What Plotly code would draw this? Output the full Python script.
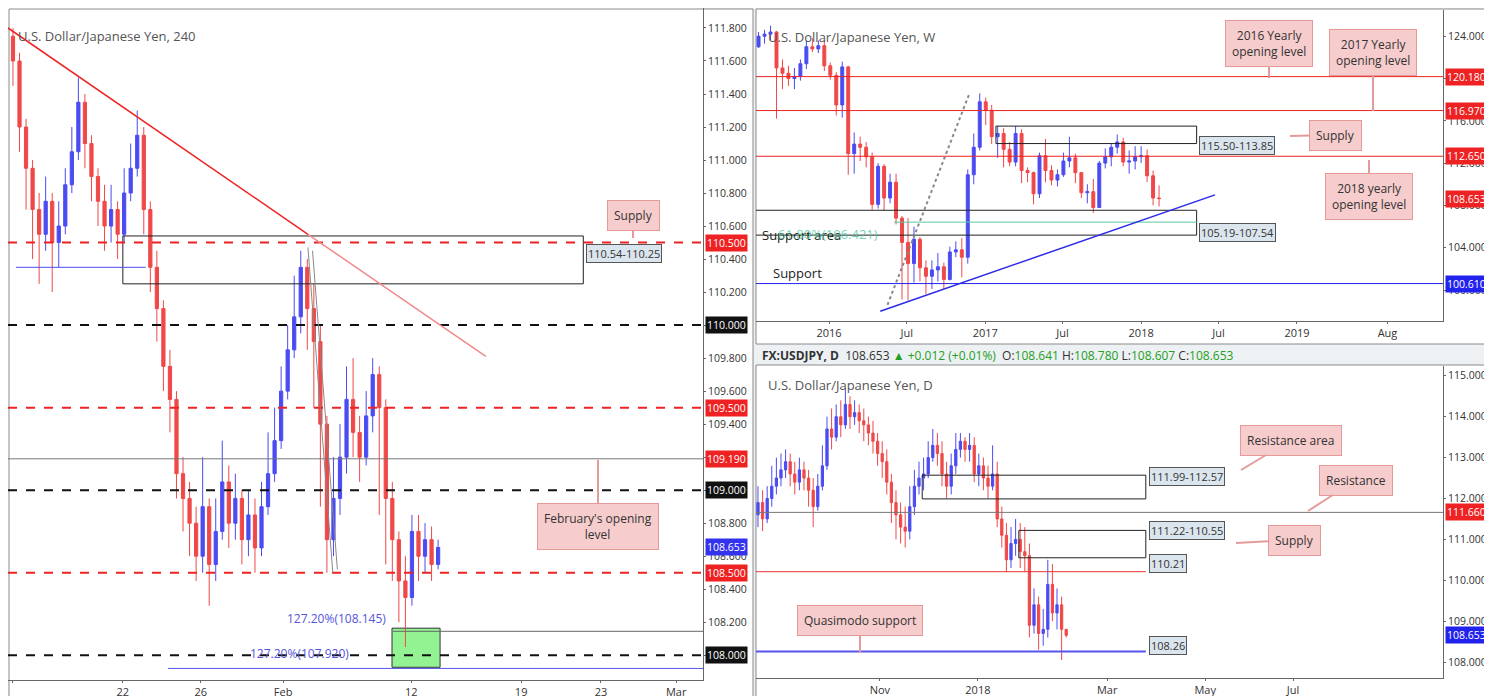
"""
    USD/JPY: 4h, weekly and daily panels
"""

import pandas as pd
import plotly.graph_objects as go

W, H = 1492, 696

# ---- 4h data (Jan 15 - Feb 13)
h4_close = [111.60, 111.20, 110.95, 110.70, 110.55, 110.75, 110.50, 110.60, 110.85, 111.05,
            111.35, 111.10, 110.90, 110.75, 110.60, 110.70, 110.55, 110.80, 110.95, 111.15,
            110.70, 110.35, 110.10, 109.75, 109.55, 109.10, 108.95, 108.80, 108.60, 108.90,
            108.55, 108.75, 109.05, 108.80, 108.95, 108.70, 108.85, 108.65, 108.90, 109.10,
            109.30, 109.60, 109.85, 110.05, 110.35, 110.10, 109.90, 109.40, 108.70, 108.95,
            109.20, 109.55, 109.35, 109.20, 109.45, 109.70, 109.50, 108.95, 108.70, 108.45,
            108.35, 108.75, 108.60, 108.70, 108.55, 108.653]
h4_high = [111.80, 111.65, 111.25, 111.00, 110.80, 110.90, 110.80, 110.75, 110.95, 111.20,
           111.50, 111.40, 111.15, 110.95, 110.85, 110.85, 110.75, 110.95, 111.10, 111.30,
           111.20, 110.75, 110.45, 110.15, 109.85, 109.60, 109.20, 109.05, 108.90, 109.20,
           108.95, 108.95, 109.30, 109.15, 109.10, 109.00, 109.00, 108.95, 109.05, 109.35,
           109.50, 109.75, 110.00, 110.30, 110.45, 110.40, 110.25, 110.00, 109.45, 109.20,
           109.40, 109.75, 109.80, 109.45, 109.60, 109.80, 109.75, 109.55, 109.05, 108.75,
           108.60, 108.85, 108.85, 108.80, 108.78, 108.70]
h4_low = [111.45, 111.05, 110.70, 110.40, 110.25, 110.45, 110.20, 110.35, 110.55, 110.80,
          111.00, 110.95, 110.75, 110.60, 110.45, 110.50, 110.40, 110.50, 110.75, 110.90,
          110.55, 110.20, 109.90, 109.60, 109.35, 108.95, 108.75, 108.60, 108.45, 108.50,
          108.30, 108.45, 108.70, 108.65, 108.70, 108.55, 108.60, 108.50, 108.60, 108.85,
          109.05, 109.25, 109.55, 109.80, 109.95, 109.85, 109.50, 108.90, 108.50, 108.60,
          108.85, 109.10, 109.20, 109.05, 109.15, 109.35, 108.85, 108.55, 108.45, 108.20,
          108.05, 108.30, 108.45, 108.50, 108.45, 108.52]
h4_first_open = 111.75
h4_ticks = [0, 16.8, 28.7, 41.3, 60.9, 77.7, 89.9, 101.4]
h4_ticktext = ["15", "22", "26", "Feb", "12", "19", "23", "Mar"]

# ---- weekly data (two-week bars, Jul 2015 - Feb 2018)
wk_close = [124.0, 124.2, 124.4, 121.0, 120.5, 120.0, 120.2, 121.4, 123.0, 122.8, 123.1, 121.2, 120.3,
            117.5, 121.1, 112.9, 113.8, 113.5, 112.6, 108.1, 111.7, 108.7, 110.2, 106.8, 104.5, 102.5,
            104.8, 102.1, 101.3, 101.9, 102.2, 101.0, 103.6, 103.8, 103.1, 110.9, 113.5, 117.8, 117.0,
            114.5, 114.8, 113.3, 112.1, 114.8, 111.3, 111.1, 109.1, 112.7, 111.3, 110.4, 110.9, 112.2,
            112.5, 111.1, 109.2, 109.3, 107.8, 112.0, 112.6, 113.5, 114.0, 112.1, 112.2, 112.6, 112.7,
            110.8, 108.7, 108.65]
wk_high = [124.4, 124.6, 125.0, 124.5, 121.8, 121.2, 121.0, 121.8, 123.6, 123.8, 123.6, 123.6, 121.5,
           120.6, 121.6, 121.2, 114.9, 114.5, 114.0, 113.0, 112.0, 111.9, 111.0, 111.0, 107.0, 106.8,
           106.0, 105.0, 102.8, 102.8, 103.5, 102.6, 104.1, 104.6, 104.9, 111.4, 114.8, 118.6, 118.2,
           117.5, 115.5, 115.3, 114.0, 115.5, 115.2, 111.6, 111.2, 113.0, 114.3, 111.8, 111.4, 113.0,
           114.5, 112.9, 111.1, 110.0, 110.5, 112.2, 113.4, 113.9, 114.7, 114.4, 113.2, 113.6, 113.6,
           113.3, 111.3, 109.9]
wk_low = [122.9, 123.3, 123.6, 116.2, 119.0, 119.3, 119.0, 119.8, 120.9, 122.5, 122.4, 120.7, 119.9,
          116.5, 116.3, 110.9, 111.0, 112.2, 111.6, 107.6, 107.7, 107.5, 108.2, 106.2, 99.1, 99.0,
          100.7, 100.8, 99.6, 100.1, 100.8, 100.1, 100.9, 103.1, 101.2, 102.5, 110.0, 113.2, 115.6,
          113.8, 112.5, 111.6, 111.7, 111.7, 110.1, 110.2, 108.1, 108.7, 110.2, 109.9, 109.8, 110.7,
          111.6, 110.1, 108.7, 108.2, 107.3, 107.8, 111.5, 111.7, 112.9, 111.7, 111.0, 111.4, 112.0,
          110.2, 108.0, 107.9]
wk_first_open = 123.0
wk_start = "2015-07-20"
wk_ticks = ["2016-01-01", "2016-07-01", "2017-01-01", "2017-07-01",
            "2018-01-01", "2018-07-01", "2019-01-01", "2019-08-01"]
wk_ticktext = ["2016", "Jul", "2017", "Jul", "2018", "Jul", "2019", "Aug"]

# ---- daily data (two-day bars, Aug 2017 - Feb 2018)
d_close = [111.9, 111.5, 112.0, 112.3, 112.5, 112.7, 112.9, 112.6, 112.4, 112.7,
           112.5, 112.2, 111.8, 112.3, 112.8, 113.7, 113.5, 114.0, 113.8, 114.3,
           114.0, 114.1, 113.9, 113.8, 113.6, 113.4, 113.1, 112.9, 112.4, 111.9,
           111.6, 111.3, 111.2, 111.8, 112.3, 112.5, 112.6, 113.0, 113.3, 113.1,
           112.6, 112.3, 112.8, 113.2, 113.4, 113.2, 113.3, 112.6, 112.8, 112.5,
           112.3, 112.6, 111.5, 111.1, 110.5, 110.9, 111.0, 110.7, 110.6, 108.9,
           109.4, 108.7, 108.8, 109.9, 109.2, 109.4, 108.8, 108.653]
d_high = [112.3, 112.2, 112.3, 112.8, 113.0, 113.1, 113.2, 113.1, 112.9, 113.0,
          112.9, 112.7, 112.5, 112.6, 113.3, 114.0, 114.2, 114.3, 114.4, 114.7,
          114.5, 114.4, 114.3, 114.2, 114.0, 113.9, 113.6, 113.4, 113.2, 112.6,
          112.2, 111.9, 111.8, 112.3, 112.7, 112.9, 113.0, 113.4, 113.7, 113.6,
          113.4, 112.9, 113.1, 113.6, 113.6, 113.5, 113.6, 113.5, 113.1, 113.0,
          112.8, 113.3, 112.9, 111.8, 111.4, 111.3, 111.5, 111.4, 111.3, 110.9,
          109.8, 109.6, 109.3, 110.5, 110.4, 109.8, 109.6, 108.78]
d_low = [111.3, 111.2, 111.4, 111.8, 112.1, 112.3, 112.5, 112.3, 112.1, 112.2,
         112.2, 111.8, 111.3, 111.7, 112.2, 112.7, 113.2, 113.4, 113.5, 113.7,
         113.7, 113.8, 113.6, 113.4, 113.3, 113.1, 112.8, 112.5, 112.1, 111.4,
         111.0, 110.9, 110.8, 111.0, 111.6, 112.1, 112.2, 112.5, 112.9, 112.8,
         112.3, 112.0, 112.1, 112.6, 113.0, 112.9, 112.9, 112.4, 112.3, 112.2,
         112.0, 112.2, 111.3, 110.8, 110.2, 110.3, 110.6, 110.3, 110.2, 108.6,
         108.7, 108.3, 108.4, 108.6, 109.0, 108.8, 108.05, 108.6]
d_first_open = 111.6
d_ticks = [26.5, 47.8, 75.9, 97.2, 116.3]
d_ticktext = ["Nov", "2018", "Mar", "May", "Jul"]

UP, DN = "#4b4bf2", "#f04848"
FONT = "Open Sans"


def ohlc(first_open, close, high, low):
    opens = [first_open] + close[:-1]
    hi = [max(h, o, c) for h, o, c in zip(high, opens, close)]
    lo = [min(l, o, c) for l, o, c in zip(low, opens, close)]
    return opens, hi, lo


def candle(x, o, h, l, c, xa, ya):
    return go.Candlestick(x=x, open=o, high=h, low=l, close=c, xaxis=xa, yaxis=ya,
                          increasing=dict(line=dict(color=UP, width=1), fillcolor=UP),
                          decreasing=dict(line=dict(color=DN, width=1), fillcolor=DN),
                          whiskerwidth=0, showlegend=False, hoverinfo="skip")


def px(x, y):
    return x / W, 1 - y / H


fig = go.Figure()

o, hi, lo = ohlc(h4_first_open, h4_close, h4_high, h4_low)
fig.add_trace(candle(list(range(len(h4_close))), o, hi, lo, h4_close, "x", "y"))

wk_dates = pd.date_range(wk_start, periods=len(wk_close), freq="14D")
o, hi, lo = ohlc(wk_first_open, wk_close, wk_high, wk_low)
fig.add_trace(candle(wk_dates, o, hi, lo, wk_close, "x2", "y2"))

o, hi, lo = ohlc(d_first_open, d_close, d_high, d_low)
fig.add_trace(candle(list(range(len(d_close))), o, hi, lo, d_close, "x3", "y3"))

shapes = []
ann = []

# panel frames
for x0, y0, x1, y1 in [(1, 1, 745, 694), (748, 1, 1491, 336), (748, 357, 1491, 694)]:
    shapes.append(dict(type="rect", xref="paper", yref="paper", layer="below",
                       x0=x0 / W, x1=x1 / W, y0=1 - y1 / H, y1=1 - y0 / H,
                       fillcolor="white", line=dict(color="#8a8a8a", width=1)))


def hline(xa, ya, y, color, dash="solid", width=1, x0=None, x1=None):
    d = dict(type="line", yref=ya, y0=y, y1=y, line=dict(color=color, dash=dash, width=width))
    if x0 is None:
        d.update(xref=xa + " domain", x0=0, x1=1)
    else:
        d.update(xref=xa, x0=x0, x1=x1)
    shapes.append(d)


def price_box(xpx, ya, y, text, bg):
    ann.append(dict(x=xpx / W, xref="paper", y=y, yref=ya, text=text, showarrow=False,
                    xanchor="left", font=dict(color="white", size=10.5, family=FONT),
                    bgcolor=bg, borderpad=1))


def zone_label(xpx, ypx, text):
    ann.append(dict(x=xpx / W, y=1 - ypx / H, xref="paper", yref="paper", text=text,
                    showarrow=False, xanchor="left", font=dict(size=11, color="#333", family=FONT),
                    bgcolor="#dbe5ee", bordercolor="#555", borderwidth=1, borderpad=1))


def callout(cx, cy, tx, ty, text):
    x, y = px(tx, ty)
    ann.append(dict(x=x, y=y, xref="paper", yref="paper", ax=cx - tx, ay=cy - ty,
                    axref="pixel", ayref="pixel", text=text, showarrow=True, arrowhead=0,
                    arrowwidth=2, arrowcolor="#e59a9a", bgcolor="#f6cccc", bordercolor="#e59a9a",
                    borderwidth=1, borderpad=6, font=dict(size=12, color="#333", family=FONT)))


def title(xpx, ypx, text):
    ann.append(dict(x=xpx / W, y=1 - ypx / H, xref="paper", yref="paper", text=text,
                    showarrow=False, xanchor="left", font=dict(size=13, color="#555", family=FONT)))


# ---- 4h panel decorations
shapes.append(dict(type="rect", xref="x", yref="y", x0=16.8, x1=87.2, y0=110.25, y1=110.54,
                   line=dict(color="#222", width=1)))
hline("x", "y", 110.35, "#4b4bf2", x0=0.46, x1=20.3)
for lvl, col, dash in [(110.5, "#ee2222", "dash"), (110.0, "#111", "dash"), (109.5, "#ee2222", "dash"),
                       (109.0, "#111", "dash"), (108.5, "#ee2222", "dash"), (108.0, "#111", "dash")]:
    hline("x", "y", lvl, col, dash, 2)
hline("x", "y", 109.19, "#777")
hline("x", "y", 108.145, "#666", x0=58.1, x1=105.5)
hline("x", "y", 107.92, "#5555ee", x0=23.7, x1=105.5)
shapes.append(dict(type="line", xref="x", yref="y", x0=-0.76, y0=111.8, x1=45.1, y1=110.55,
                   line=dict(color="#ee2222", width=1.5)))
shapes.append(dict(type="line", xref="x", yref="y", x0=45.1, y0=110.55, x1=72.3, y1=109.81,
                   line=dict(color="#f08a8a", width=1.5)))
shapes.append(dict(type="line", xref="x", yref="y", x0=45.1, y0=110.47, x1=48.9, y1=108.50,
                   line=dict(color="#888", width=1)))
shapes.append(dict(type="line", xref="x", yref="y", x0=45.8, y0=110.45, x1=49.6, y1=108.52,
                   line=dict(color="#888", width=1)))
shapes.append(dict(type="rect", xref="x", yref="y", x0=57.95, x1=65.3, y0=107.927, y1=108.164,
                   fillcolor="rgba(120,240,120,0.8)", line=dict(color="#333", width=1), layer="below"))
ann.append(dict(x=380 / W, y=1 - 621 / H, xref="paper", yref="paper", text="127.20%(108.145)",
                showarrow=False, xanchor="right", font=dict(size=12, color="#5555dd", family=FONT)))
ann.append(dict(x=240 / W, y=1 - 656 / H, xref="paper", yref="paper", text="127.20%(107.920)",
                showarrow=False, font=dict(size=12, color="#5555dd", family=FONT)))
zone_label(578, 245, "110.54-110.25")
title(8, 17, "U.S. Dollar/Japanese Yen, 240")
callout(625, 207, 625, 230, "Supply")
callout(590, 518, 590, 452, "February's opening<br>level")
for lvl, bg in [(110.5, "#ee2222"), (110.0, "#111"), (109.5, "#ee2222"), (109.19, "#ee2222"),
                (109.0, "#111"), (108.653, "#3333ee"), (108.5, "#ee2222"), (108.0, "#111")]:
    price_box(697, "y", lvl, f"{lvl:.3f}", bg)

# ---- weekly panel decorations
for lvl in [120.18, 116.97, 112.65]:
    hline("x2", "y2", lvl, "#ee2222")
hline("x2", "y2", 100.61, "#2222ee")
shapes.append(dict(type="rect", xref="x2", yref="y2", x0="2017-01-26", x1="2018-05-11",
                   y0=113.85, y1=115.50, line=dict(color="#222", width=1)))
shapes.append(dict(type="rect", xref="x2", yref="y2", x0="2015-07-08", x1="2018-05-11",
                   y0=105.19, y1=107.54, line=dict(color="#222", width=1)))
hline("x2", "y2", 106.42, "#5cc8a0", x0="2016-06-01", x1="2018-05-11")
shapes.append(dict(type="line", xref="x2", yref="y2", x0="2016-04-30", y0=98.0, x1="2018-06-23", y1=109.0,
                   line=dict(color="#2a2ae8", width=1.5)))
shapes.append(dict(type="line", xref="x2", yref="y2", x0="2016-05-17", y0=98.6, x1="2016-11-25", y1=118.6,
                   line=dict(color="#888", width=2, dash="dot")))
zone_label(1191, 128, "115.50-113.85")
zone_label(1191, 215, "105.19-107.54")
ann.append(dict(x=752 / W, y=1 - 216 / H, xref="paper", yref="paper", text="Support area",
                showarrow=False, xanchor="left", font=dict(size=13, color="#222", family=FONT)))
ann.append(dict(x=768 / W, y=1 - 215 / H, xref="paper", yref="paper", text="61.80%(106.421)",
                showarrow=False, xanchor="left", font=dict(size=13, color="rgba(80,200,160,0.8)", family=FONT)))
ann.append(dict(x=763 / W, y=1 - 265 / H, xref="paper", yref="paper", text="Support",
                showarrow=False, xanchor="left", font=dict(size=13, color="#222", family=FONT)))
title(758, 18, "U.S. Dollar/Japanese Yen, W")
callout(1261, 36, 1261, 70, "2016 Yearly<br>opening level")
callout(1365, 45, 1365, 103, "2017 Yearly<br>opening level")
callout(1327, 127, 1282, 128, "Supply")
callout(1361, 188, 1361, 152, "2018 yearly<br>opening level")
for lvl, bg in [(120.18, "#ee2222"), (116.97, "#ee2222"), (112.65, "#ee2222"),
                (108.653, "#ee2222"), (100.61, "#2222ee")]:
    price_box(1437, "y2", lvl, f"{lvl:.3f}", bg)

# ---- daily panel decorations
hline("x3", "y3", 111.66, "#777")
hline("x3", "y3", 110.21, "#ee3333", x0=-0.43, x1=84.3)
hline("x3", "y3", 108.26, "#5555ee", width=2, x0=-0.43, x1=84.3)
shapes.append(dict(type="rect", xref="x3", yref="y3", x0=35.7, x1=84.3, y0=111.99, y1=112.57,
                   line=dict(color="#222", width=1)))
shapes.append(dict(type="rect", xref="x3", yref="y3", x0=56.7, x1=84.3, y0=110.55, y1=111.22,
                   line=dict(color="#222", width=1)))
zone_label(1141, 478, "111.99-112.57")
zone_label(1141, 532, "111.22-110.55")
zone_label(1141, 565, "110.21")
zone_label(1141, 647, "108.26")
title(758, 377, "U.S. Dollar/Japanese Yen, D")
callout(1283, 432, 1233, 462, "Resistance area")
callout(1348, 472, 1300, 503, "Resistance")
callout(1286, 532, 1228, 535, "Supply")
callout(852, 612, 852, 645, "Quasimodo support")
price_box(1437, "y3", 111.66, "111.660", "#ee2222")
price_box(1437, "y3", 108.653, "108.653", "#2222ee")

ann.append(dict(x=752 / W, y=1 - 347 / H, xref="paper", yref="paper", showarrow=False, xanchor="left",
                font=dict(size=12, color="#333", family=FONT),
                text="<b>FX:USDJPY, D</b>  108.653 <span style='color:#22a022'>▲ +0.012 (+0.01%)</span>"
                     "  O:<span style='color:#22a022'>108.641</span>"
                     " H:<span style='color:#22a022'>108.780</span>"
                     " L:<span style='color:#22a022'>108.607</span>"
                     " C:<span style='color:#22a022'>108.653</span>"))

axis_font = dict(size=11, color="#333", family=FONT)
ax_common = dict(showgrid=False, zeroline=False, showline=True, linecolor="#666",
                 tickfont=axis_font, ticks="outside", ticklen=2, tickcolor="#666",
                 rangeslider=dict(visible=False))
y_common = dict(showgrid=False, zeroline=False, showline=True, linecolor="#666", side="right",
                tickfont=dict(size=10.5, color="#333", family=FONT), tickformat=".3f",
                ticks="outside", ticklen=2, tickcolor="#666")

fig.update_layout(
    width=W, height=H, margin=dict(l=0, r=0, t=0, b=0),
    paper_bgcolor="#eef1f4", plot_bgcolor="white", showlegend=False,
    shapes=shapes, annotations=ann,
    xaxis=dict(ax_common, domain=[0, 695 / W], range=[-0.76, 105.5],
               tickvals=h4_ticks, ticktext=h4_ticktext, anchor="y"),
    yaxis=dict(y_common, domain=[1 - 672 / H, 1], range=[107.85, 111.921], dtick=0.2, anchor="x"),
    xaxis2=dict(ax_common, domain=[748 / W, 1435 / W], type="date",
                range=["2015-07-14", "2019-12-09"], tickvals=wk_ticks, ticktext=wk_ticktext, anchor="y2"),
    yaxis2=dict(y_common, domain=[1 - 313 / H, 1 - 2 / H], range=[97.07, 126.48], dtick=4, anchor="x2"),
    xaxis3=dict(ax_common, domain=[748 / W, 1435 / W], range=[-0.43, 148.9],
                tickvals=d_ticks, ticktext=d_ticktext, anchor="y3"),
    yaxis3=dict(y_common, domain=[1 - 670 / H, 1 - 358 / H], range=[107.61, 115.24], dtick=1, anchor="x3"),
)

fig.write_html("out.html")
